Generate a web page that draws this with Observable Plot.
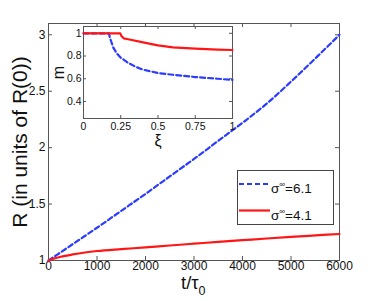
<!DOCTYPE html>
<html><head><meta charset="utf-8">
<script src="https://cdn.jsdelivr.net/npm/d3@7"></script>
<script src="https://cdn.jsdelivr.net/npm/@observablehq/plot@0.6"></script>
<style>
body{margin:0;background:#fff;font-family:"Liberation Sans",Arial,sans-serif;}
#wrap{position:relative;width:374px;height:301px;overflow:hidden;}
#wrap > svg{position:absolute;overflow:visible;}
#main g[aria-label="y-axis label"] text{font-size:21px;}
#inset g[aria-label="y-axis label"] text{font-size:16px;}
#inset g[aria-label="x-axis label"] text{font-size:16px;}
</style></head><body><div id="wrap"></div>
<script>
// main chart data
const tMain = [0, 100, 250, 500, 750, 1000, 1500, 2000, 2500, 3000, 3500, 4000, 4500, 5000, 5500, 6000];
const rBlue = [1, 1.029, 1.072, 1.145, 1.217, 1.29, 1.44, 1.59, 1.745, 1.90, 2.06, 2.22, 2.39, 2.585, 2.79, 3.0];
const rRed  = [1, 1.016, 1.033, 1.054, 1.071, 1.084, 1.101, 1.116, 1.133, 1.149, 1.165, 1.18, 1.195, 1.209, 1.222, 1.235];
// inset data
const xiBlue = [0, 0.17, 0.18, 0.2, 0.225, 0.25, 0.3, 0.35, 0.4, 0.5, 0.6, 0.75, 0.9, 1.0];
const mBlue  = [1, 1, 0.95, 0.874, 0.82, 0.785, 0.74, 0.705, 0.68, 0.65, 0.635, 0.615, 0.60, 0.59];
const xiRed = [0, 0.247, 0.255, 0.27, 0.3, 0.4, 0.5, 0.6, 0.75, 0.9, 1.0];
const mRed  = [1, 1, 0.975, 0.956, 0.948, 0.92, 0.894, 0.877, 0.865, 0.857, 0.853];
// ticks & labels
const xTicks = [0, 1000, 2000, 3000, 4000, 5000, 6000];
const yTicks = [1, 1.5, 2, 2.5, 3];
const xiTicks = [0, 0.25, 0.5, 0.75, 1];
const mTicks = [0.4, 0.6, 0.8, 1];
const yLabel = "R (in units of R(0))";
const xLabelMain = "t/τ", xLabelSub = "0";
const legendSymbol = "σ", legendSup = "∞";
const legendValues = ["6.1", "4.1"];
const colors = ["#2b3cff", "#ff1515"];
const dash = "5,3";

const blueRows = tMain.map((t, i) => ({t, r: rBlue[i]}));
const redRows = tMain.map((t, i) => ({t, r: rRed[i]}));
const iBlue = xiBlue.map((x, i) => ({x, m: mBlue[i]}));
const iRed = xiRed.map((x, i) => ({x, m: mRed[i]}));

const axisColor = "#555";
const main = Plot.plot({
  width: 374, height: 301,
  marginLeft: 48, marginRight: 35, marginTop: 23, marginBottom: 41,
  style: {fontFamily: "Liberation Sans, Arial, sans-serif", fontSize: "12px", background: "transparent", color: "#111"},
  x: {domain: [0, 6000]},
  y: {domain: [1, 3.1]},
  marks: [
    Plot.frame({stroke: axisColor}),
    Plot.tickX(xTicks, {x: d => d, insetTop: 233, stroke: axisColor}),
    Plot.tickX(xTicks, {x: d => d, insetBottom: 233, stroke: axisColor}),
    Plot.tickY(yTicks, {y: d => d, insetRight: 287, stroke: axisColor}),
    Plot.tickY(yTicks, {y: d => d, insetLeft: 287, stroke: axisColor}),
    Plot.axisX(xTicks, {tickSize: 0, tickPadding: 1, tickFormat: d => String(d), label: null}),
    Plot.axisY(yTicks, {tickSize: 0, tickPadding: 3, tickFormat: d => String(d), label: yLabel, labelAnchor: "center", labelArrow: "none", labelOffset: 36}),
    Plot.line(blueRows, {x: "t", y: "r", stroke: colors[0], strokeWidth: 2.2, strokeDasharray: dash, curve: "monotone-x"}),
    Plot.line(redRows, {x: "t", y: "r", stroke: colors[1], strokeWidth: 2.2, curve: "monotone-x"})
  ]
});
main.id = "main";
main.style.left = "0px"; main.style.top = "0px";

const inset = Plot.plot({
  width: 200, height: 135,
  marginLeft: 43, marginRight: 8, marginTop: 8, marginBottom: 35,
  style: {fontFamily: "Liberation Sans, Arial, sans-serif", fontSize: "10.5px", background: "transparent", color: "#111"},
  x: {domain: [0, 1]},
  y: {domain: [0.25, 1.06]},
  marks: [
    Plot.frame({stroke: axisColor, fill: "white"}),
    Plot.tickX(xiTicks, {x: d => d, insetTop: 89, stroke: axisColor}),
    Plot.tickX(xiTicks, {x: d => d, insetBottom: 89, stroke: axisColor}),
    Plot.tickY(mTicks, {y: d => d, insetRight: 146, stroke: axisColor}),
    Plot.tickY(mTicks, {y: d => d, insetLeft: 146, stroke: axisColor}),
    Plot.axisX(xiTicks, {tickSize: 0, tickPadding: 4, tickFormat: d => String(d), label: "ξ", labelAnchor: "center", labelArrow: "none", labelOffset: 27}),
    Plot.axisY(mTicks, {tickSize: 0, tickPadding: 2, tickFormat: d => String(d), label: "m", labelAnchor: "center", labelArrow: "none", labelOffset: 31}),
    Plot.line(iBlue, {x: "x", y: "m", stroke: colors[0], strokeWidth: 2.2, strokeDasharray: dash}),
    Plot.line(iRed, {x: "x", y: "m", stroke: colors[1], strokeWidth: 2.2})
  ]
});
inset.id = "inset";
inset.style.left = "40px"; inset.style.top = "18px";

const wrap = document.getElementById("wrap");
wrap.appendChild(main);
wrap.appendChild(inset);

const NS = "http://www.w3.org/2000/svg";
function el(tag, attrs, parent) {
  const e = document.createElementNS(NS, tag);
  for (const k in attrs) e.setAttribute(k, attrs[k]);
  if (parent) parent.appendChild(e);
  return e;
}
// x-axis label with subscript
const xl = el("svg", {width: 40, height: 32});
xl.style.position = "absolute"; xl.style.left = "180px"; xl.style.top = "270px";
const xt = el("text", {x: 1, y: 18.5, "font-size": 18.5, "font-family": "Liberation Sans, Arial, sans-serif", fill: "#111"}, xl);
xt.appendChild(document.createTextNode(xLabelMain));
const xs = el("tspan", {"font-size": 12.5, dy: 6}, xt);
xs.textContent = xLabelSub;
wrap.appendChild(xl);

// legend
const lg = el("svg", {width: 99, height: 57});
lg.style.position = "absolute"; lg.style.left = "236px"; lg.style.top = "169px";
el("rect", {x: 1.5, y: 1.5, width: 96, height: 54, fill: "white", stroke: "#444"}, lg);
legendValues.forEach((v, i) => {
  const ly = i === 0 ? 15 : 41.5;
  const line = el("line", {x1: 3, x2: 34, y1: ly, y2: ly, stroke: colors[i], "stroke-width": 2.2}, lg);
  if (i === 0) line.setAttribute("stroke-dasharray", dash);
  const t = el("text", {x: 35, y: ly + 9, "font-size": 13.5, "font-family": "Liberation Sans, Arial, sans-serif", fill: "#111"}, lg);
  t.appendChild(document.createTextNode(legendSymbol));
  const sup = el("tspan", {"font-size": 8, dy: -6}, t);
  sup.textContent = legendSup;
  const rest = el("tspan", {dy: 6}, t);
  rest.textContent = "=" + v;
});
wrap.appendChild(lg);
</script>
</body></html>
